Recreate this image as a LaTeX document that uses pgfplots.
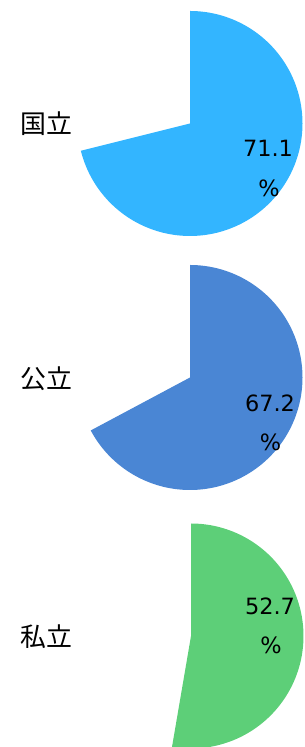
\documentclass[border=0pt]{standalone}
\usepackage{pgfplots}
\pgfplotsset{compat=1.18}
\usepackage{fontspec}
\setmainfont{DejaVu Sans}
\newfontfamily\cjk{Noto Sans CJK JP}
\definecolor{cA}{HTML}{33B5FF}
\definecolor{cB}{HTML}{4A86D4}
\definecolor{cC}{HTML}{5DCF78}
\begin{document}
\begin{tikzpicture}
\useasboundingbox (0,0) rectangle (305bp,747bp);
\begin{axis}[
  at={(0,0)}, anchor=south west,
  width=305bp, height=747bp, scale only axis,
  xmin=0, xmax=305, ymin=-747, ymax=0,
  hide axis, clip=true,
]
% 国立 71.1 %
\addplot[fill=cA, draw=none, domain={90-3.6*71.1}:90, samples=240, variable=\t]
  ({190+112.5*cos(\t)}, {-123.5+112.5*sin(\t)}) -- (190,-123.5) -- cycle;
% 公立 67.2 %
\addplot[fill=cB, draw=none, domain={90-3.6*67.2}:90, samples=240, variable=\t]
  ({190+112.5*cos(\t)}, {-377.5+112.5*sin(\t)}) -- (190,-377.5) -- cycle;
% 私立 52.7 %
\addplot[fill=cC, draw=none, domain={90-3.6*52.7}:90, samples=240, variable=\t]
  ({191+112.5*cos(\t)}, {-636+112.5*sin(\t)}) -- (191,-636) -- cycle;

\node[font=\cjk\fontsize{26}{30}\selectfont] at (46,-124) {国立};
\node[font=\cjk\fontsize{26}{30}\selectfont] at (46,-379) {公立};
\node[font=\cjk\fontsize{26}{30}\selectfont] at (46,-637) {私立};

\node[anchor=base, inner sep=0pt, font=\fontsize{22.5}{27}\selectfont] at (268,-157) {71.1};
\node[anchor=base, inner sep=0pt, font=\fontsize{22.5}{27}\selectfont] at (269,-197) {\%};
\node[anchor=base, inner sep=0pt, font=\fontsize{22.5}{27}\selectfont] at (270,-412) {67.2};
\node[anchor=base, inner sep=0pt, font=\fontsize{22.5}{27}\selectfont] at (270.5,-451) {\%};
\node[anchor=base, inner sep=0pt, font=\fontsize{22.5}{27}\selectfont] at (270,-615) {52.7};
\node[anchor=base, inner sep=0pt, font=\fontsize{22.5}{27}\selectfont] at (271,-654) {\%};
\end{axis}
\end{tikzpicture}
\end{document}
